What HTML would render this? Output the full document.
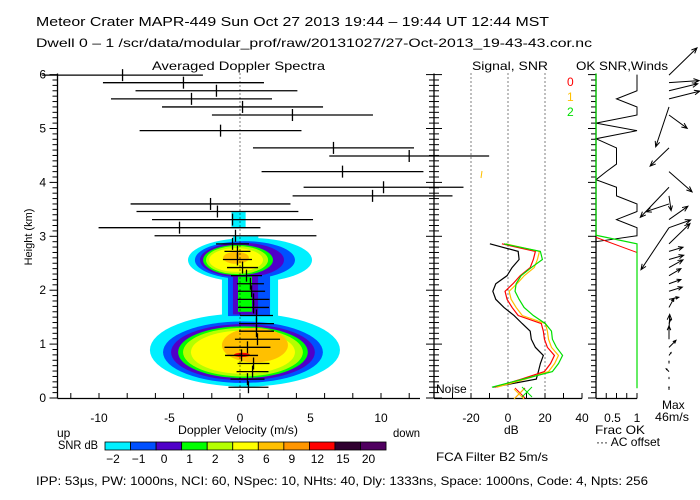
<!DOCTYPE html>
<html><head><meta charset="utf-8"><style>
html,body{margin:0;padding:0;background:#fff;}
svg{display:block;font-family:"Liberation Sans",sans-serif;}
text{fill:#000;font-size:12px;}
</style></head><body>
<svg id="chart" width="700" height="500" viewBox="0 0 700 500" xmlns="http://www.w3.org/2000/svg">
<rect x="0" y="0" width="700" height="500" fill="#fff"/>
<text x="36" y="26" textLength="513" lengthAdjust="spacingAndGlyphs" style="font-size:13px">Meteor Crater  MAPR-449  Sun Oct 27 2013 19:44 – 19:44 UT 12:44 MST</text>
<text x="36" y="47" textLength="556" lengthAdjust="spacingAndGlyphs" style="font-size:12px">Dwell  0 – 1   /scr/data/modular_prof/raw/20131027/27-Oct-2013_19-43-43.cor.nc</text>
<text x="152" y="70" textLength="173" lengthAdjust="spacingAndGlyphs">Averaged Doppler Spectra</text>
<text x="472" y="70" textLength="76" lengthAdjust="spacingAndGlyphs">Signal, SNR</text>
<text x="576" y="70" textLength="92" lengthAdjust="spacingAndGlyphs">OK SNR,Winds</text>
<text transform="translate(32,237) rotate(-90)" text-anchor="middle" style="font-size:11px">Height (km)</text>
<text x="57" y="437">up</text>
<text x="178" y="434" textLength="120" lengthAdjust="spacingAndGlyphs">Doppler Velocity (m/s)</text>
<text x="393" y="437" textLength="27" lengthAdjust="spacingAndGlyphs">down</text>
<text x="58" y="449" textLength="40" lengthAdjust="spacingAndGlyphs">SNR dB</text>
<text x="504" y="434">dB</text>
<text x="595" y="434" textLength="50" lengthAdjust="spacingAndGlyphs">Frac OK</text>
<text x="596" y="446" textLength="64" lengthAdjust="spacingAndGlyphs">··· AC offset</text>
<text x="662" y="409">Max</text>
<text x="655" y="421" textLength="34" lengthAdjust="spacingAndGlyphs">46m/s</text>
<text x="436" y="461" textLength="112" lengthAdjust="spacingAndGlyphs">FCA Filter B2   5m/s</text>
<text x="436" y="393">Noise</text>
<text x="567" y="86" style="fill:#ff0000">0</text>
<text x="567" y="101" style="fill:#ffc000">1</text>
<text x="567" y="116" style="fill:#00e000">2</text>
<text x="36" y="485" textLength="612" lengthAdjust="spacingAndGlyphs">IPP:  53µs,  PW: 1000ns,  NCI:  60,  NSpec: 10, NHts: 40,  Dly: 1333ns,  Space: 1000ns,  Code: 4,  Npts: 256</text>
<g id="layer"></g>
</svg>
<script>
// ---- spectra data ----
const gateHeights = [5.99,5.85,5.70,5.55,5.40,5.25,4.96,4.64,4.49,4.20,3.91,3.75,3.60,3.46,3.31,3.16,3.01,2.86,2.72,2.57,2.42,2.27,2.12,1.98,1.83,1.68,1.53,1.38,1.24,1.09,0.94,0.79,0.64,0.49,0.35,0.20];
const meanVel = [-8.33,-4.01,-1.67,-3.44,0.18,3.72,-1.38,6.63,12.0,7.27,10.18,9.40,-2.09,-1.60,-0.53,-4.29,-0.32,-0.53,-0.18,-0.18,0.18,0.46,0.74,0.82,0.96,0.96,1.17,1.17,1.17,1.24,0.53,0.11,0.96,0.89,0.53,0.60];
const specWidth = [5.7,5.71,5.74,5.71,5.71,5.71,5.74,5.71,5.67,5.74,5.67,5.67,5.67,5.74,5.71,5.74,5.74,1.17,0.92,1.03,1.10,1.10,0.96,0.96,1.13,1.10,1.17,1.24,1.24,1.60,1.63,1.17,1.13,1.13,1.21,1.42];
const xTicks = [-10,-5,0,5,10];
const yTicks = [0,1,2,3,4,5,6];
const snrLevels = ["-2","-1","0","1","2","3","6","9","12","15","20"];
const snrColors = ["#00f0ff","#0050ff","#5000c8","#00ff00","#b4ff00","#ffff00","#ffc000","#ff9600","#ff0000","#300030","#500060"];
// contour blobs: [level, v, h, rv, rh]
const blobEllipses = [
 [0,0.71,2.56,4.4,0.41],[0,0.35,0.89,6.74,0.68],
 [1,0.35,2.56,3.55,0.35],[1,0.21,0.85,5.67,0.57],
 [2,0.14,2.56,2.98,0.32],[2,0.21,0.85,5.1,0.52],
 [3,-0.14,2.56,2.48,0.28],[3,0.21,0.85,4.6,0.48],
 [4,-0.21,2.56,2.2,0.26],[4,0.21,0.85,4.25,0.45],
 [5,-0.28,2.56,1.91,0.22],[5,0.21,0.85,3.69,0.40],
 [6,-0.28,2.6,0.92,0.11],[6,1.06,0.98,2.34,0.32],
 [8,0.14,0.80,0.57,0.04]];
// neck rects: [level, v1, v2, h1, h2]
const blobRects = [[0,-1.28,2.7,1.48,2.34],[0,-0.6,0.4,3.15,3.45],[0,-0.5,1.3,2.92,3.0],[1,-0.85,2.13,1.52,2.3],[2,-0.5,1.28,1.55,2.3],[3,-0.14,0.85,1.6,2.25]];
// ---- signal data ----
const sigHeights = [2.86,2.72,2.57,2.42,2.27,2.12,1.98,1.83,1.68,1.53,1.38,1.24,1.09,0.94,0.79,0.64,0.49,0.35,0.20];
const snrBlack = [-9.8,5.5,6.0,2.2,-0.5,-6.6,-8.2,-6.6,-2.2,3.3,7.7,12.0,12.6,14.8,19.1,17.5,16.4,15.3,-8.2];
const snrRed = [-3.3,14.8,13.7,12.0,6.6,2.7,-1.6,-0.5,2.2,5.5,18.0,19.1,19.7,21.3,25.1,23.0,19.7,7.1,-7.1];
const snrOrange = [-1.1,17.0,15.9,14.2,8.8,4.9,0.6,1.7,4.4,7.7,20.2,21.3,21.9,23.5,27.3,25.2,21.9,9.3,-6.0];
const snrGreen = [-2.2,17.5,18.6,12.6,7.1,4.4,3.8,6.0,8.7,13.7,20.2,23.5,24.0,26.2,29.5,27.3,24.0,8.2,-8.7];
const dbTicks = [-20,0,20,40];
// ---- frac / winds ----
const fracHeights = [6.0,5.85,5.70,5.55,5.40,5.25,5.10,4.96,4.81,4.64,4.49,4.34,4.20,4.05,3.91,3.75,3.60,3.46,3.31,3.16,3.01,2.90];
const fracOK = [1,1,1,0.5,1,1,0,1,0,0.5,0.5,0.5,0.25,0,0.5,0.5,1,1,0.5,1,1,0];
const windHeights = [5.99,5.85,5.70,5.55,5.40,5.25,4.64,4.20,3.91,3.75,3.60,3.31,3.16,3.16,2.86,2.72,2.57,2.42,2.27,2.12,1.98,1.83,1.68,1.38,1.24,1.09,0.94,0.79,0.64,0.49,0.35,0.15];
const windU = [40,43,41,44,-19,26,-27,33,-41,3,-33,27,31,-40,30,20,21,20,17,17,19,14,7,3,1,0,10,3,0,-4,0,0];
const windV = [39,3,10,11,-57,-19,-26,-29,-43,-21,-11,19,11,-60,29,6,6,11,10,6,6,3,13,7,24,19,10,4,3,4,2,4];

const NS = "http://www.w3.org/2000/svg";
const layer = document.getElementById('layer');
function mk(tag, attrs, parent){const e=document.createElementNS(NS,tag);for(const k in attrs)e.setAttribute(k,attrs[k]);(parent||layer).appendChild(e);return e;}
const xV = v => 240 + 14.1*v;
const yH = h => 398 - 53.9*h;
const xDb = d => 508 + 1.85*d;
const xF = f => 596 + 41*f;

const blobG = mk('g',{});


for(let lev=0; lev<11; lev++){
  blobEllipses.forEach(b=>{ if(b[0]!==lev) return;
    const e=mk('ellipse',{cx:xV(b[1]),cy:yH(b[2]),rx:b[3]*14.1,ry:b[4]*53.9,fill:snrColors[lev]},blobG);
    
    
  });
  blobRects.forEach(b=>{ if(b[0]!==lev) return;
    const r=mk('rect',{x:xV(b[1]),y:yH(b[4]),width:xV(b[2])-xV(b[1]),height:yH(b[3])-yH(b[4]),fill:snrColors[lev]},blobG);
    
    
  });
}
const zl=mk('line',{x1:xV(0),x2:xV(0),y1:yH(6.02),y2:398,stroke:'#000','stroke-dasharray':'1,3'});


gateHeights.forEach((h,i)=>{
  const y=yH(h), v=meanVel[i], w=specWidth[i];
  const l=mk('line',{x1:xV(v-w),x2:xV(v+w),y1:y,y2:y,stroke:'#000','stroke-width':1.3});
  
  
  const t=mk('line',{x1:xV(v),x2:xV(v),y1:y-6,y2:y+6,stroke:'#000','stroke-width':1.3});
  
  
});
function axisLine(x1,y1,x2,y2,name){const a=mk('line',{x1,y1,x2,y2,stroke:'#000','stroke-width':1.3});}
axisLine(57.5,yH(6.02),57.5,398.5,'spectra-y-axis');
axisLine(434,yH(6.02),434,398.5,'shared-y-axis');
axisLine(596,yH(6.02),596,398.5,'frac-y-axis');
axisLine(57.5,398.5,420,398.5,'spectra-x-axis');
axisLine(434,398.5,582,398.5,'signal-x-axis');
axisLine(596,398.5,637,398.5,'frac-x-axis');
for(let k=0;k<=60;k++){
  const y=yH(k/10), maj=(k%10===0), len=maj?8:5;
  [[57.5,-1],[434,-1],[434,1],[596,-1]].forEach(([x,s])=>{
    const t=mk('line',{x1:x,x2:x+s*len,y1:y,y2:y,stroke:'#000'});
    
    
  });
}
yTicks.forEach(h=>{const t=mk('text',{x:46,y:yH(h)+4,'text-anchor':'end'});t.textContent=h;});
for(let v=-12;v<=12;v+=2){const t=mk('line',{x1:xV(v),x2:xV(v),y1:398.5,y2:393,stroke:'#000'});}
xTicks.forEach(v=>{const t=mk('text',{x:xV(v),y:422,'text-anchor':'middle'});t.textContent=v;});
for(let d=-30;d<=40;d+=10){const t=mk('line',{x1:xDb(d),x2:xDb(d),y1:398.5,y2:393,stroke:'#000'});}
dbTicks.forEach(d=>{const t=mk('text',{x:xDb(d),y:422,'text-anchor':'middle'});t.textContent=d;
  if(d<40){const l=mk('line',{x1:xDb(d),x2:xDb(d),y1:yH(6.02),y2:398,stroke:'#000','stroke-dasharray':'1,3'});}});
[[snrBlack,'#000','snr-black'],[snrRed,'#ff0000','snr-red'],[snrOrange,'#ffc000','snr-orange'],[snrGreen,'#00e000','snr-green']].forEach(([arr,c,n])=>{
  const pts=arr.map((d,i)=>xDb(d)+','+yH(sigHeights[i])).join(' ');
  const p=mk('polyline',{points:pts,fill:'none',stroke:c,'stroke-width':1.2});
  
  
});
[[520,393,'#ff0000'],[519,394,'#ffc000'],[527,392,'#00e000']].forEach(([x,y,c])=>{
  const g=mk('path',{d:`M${x-5} ${y-5}L${x+5} ${y+5}M${x+5} ${y-5}L${x-5} ${y+5}`,stroke:c,fill:'none'});
  
  
});
const om=mk('line',{x1:482,x2:481,y1:171,y2:178,stroke:'#ffc000'});


[0,0.25,0.5,0.75,1].forEach(f=>{const t=mk('line',{x1:xF(f),x2:xF(f),y1:398.5,y2:393,stroke:'#000'});});
[[0.5,'0.5'],[1,'1']].forEach(([f,s])=>{const t=mk('text',{x:xF(f)-(f===1?0:4),y:422,'text-anchor':'middle'});t.textContent=s;});
const fl=mk('polyline',{points:fracOK.map((f,i)=>xF(f)+','+yH(fracHeights[i])).join(' '),fill:'none',stroke:'#000'});


const rl=mk('polyline',{points:`${xF(0)},${yH(2.98)} ${xF(1)},${yH(2.70)} ${xF(1)},${yH(2.6)}`,fill:'none',stroke:'#ff0000'});


const gl=mk('polyline',{points:`${xF(0)},${yH(6.02)} ${xF(0)},${yH(3.02)} ${xF(1)},${yH(2.86)} ${xF(1)},${yH(0.18)}`,fill:'none',stroke:'#00e000','stroke-width':1.2});


windHeights.forEach((h,i)=>{
  const x0=669,y0=yH(h),x1=x0+windU[i]*0.7,y1=y0-windV[i]*0.7;
  const ang=Math.atan2(y1-y0,x1-x0),L=Math.hypot(x1-x0,y1-y0),a=Math.min(6,L*0.35);
  const d=`M${x0} ${y0}L${x1} ${y1}M${x1-a*Math.cos(ang-0.4)} ${y1-a*Math.sin(ang-0.4)}L${x1} ${y1}L${x1-a*Math.cos(ang+0.4)} ${y1-a*Math.sin(ang+0.4)}`;
  const p=mk('path',{d,stroke:'#000',fill:'none'});
  
  
});
snrColors.forEach((c,i)=>{
  const x=105+i*25.55;
  const r=mk('rect',{x,y:442,width:25.55,height:8,fill:c,stroke:'#000','stroke-width':0.8});
  
  
  const t=mk('text',{x:x+8,y:463,'text-anchor':'middle'});
  t.textContent=snrLevels[i].replace('-','−');
  
  
});
</script>
</body></html>
